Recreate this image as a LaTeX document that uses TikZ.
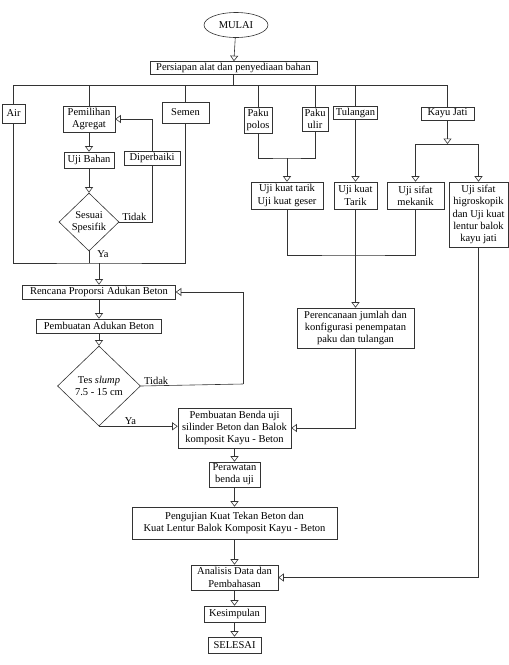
\documentclass[tikz,border=0pt]{standalone}
\usepackage{fontspec}
\setmainfont{Liberation Serif}
\usetikzlibrary{arrows.meta,shapes.geometric}

\begin{document}
\begin{tikzpicture}[x=1pt,y=-1pt,>={Triangle[open,length=5.5pt,width=8pt]},
                    line width=0.6pt,color=black!80]
  \tikzstyle{kotak}=[rectangle,draw,fill=white,text=black,inner sep=0.8pt,align=center,
                     font=\fontsize{10.5}{12.2}\selectfont]
  \tikzstyle{keputusan}=[diamond,draw,fill=white,text=black,inner sep=0pt,align=center,
                     font=\fontsize{10.5}{12.2}\selectfont]
  \tikzstyle{terminal}=[ellipse,draw,fill=white,text=black,inner sep=0pt,
                     font=\fontsize{10.5}{12.2}\selectfont]
  \tikzstyle{ket}=[text=black,inner sep=1pt,font=\fontsize{10.5}{12.2}\selectfont]

  \useasboundingbox (0,0) rectangle (509,665);

  \node[terminal,minimum width=64pt,minimum height=25pt] (mulai) at (236,25) {MULAI};
  \node[kotak,minimum width=167pt,minimum height=13pt] (persiapan) at (233.5,68) {Persiapan alat dan penyediaan bahan};

  % kiri: bahan beton
  \node[kotak,minimum width=23pt,minimum height=19pt] (air) at (13.5,113.5) {Air};
  \node[kotak,minimum width=52pt,minimum height=26pt] (pemilihan) at (89,119) {Pemilihan\\Agregat};
  \node[kotak,minimum width=47pt,minimum height=21pt] (semen) at (185.5,112.5) {Semen};
  \node[kotak,minimum width=50pt,minimum height=16pt] (ujibahan) at (89,160) {Uji Bahan};
  \node[kotak,minimum width=56pt,minimum height=14pt] (diperbaiki) at (152,158) {Diperbaiki};
  \node[keputusan,minimum width=60pt,minimum height=58pt] (sesuai) at (89,222) {Sesuai\\Spesifik};
  \node[kotak,minimum width=153pt,minimum height=14pt] (rencana) at (99,292) {Rencana Proporsi Adukan Beton};
  \node[kotak,minimum width=125pt,minimum height=14pt] (adukan) at (99,326) {Pembuatan Adukan Beton};
  \node[keputusan,minimum width=83pt,minimum height=80pt] (tes) at (99,386) {Tes \textit{slump}\\7.5 - 15 cm};

  % kanan: paku, tulangan, kayu
  \node[kotak,minimum width=28pt,minimum height=26pt] (pakupolos) at (258,120) {Paku\\polos};
  \node[kotak,minimum width=26pt,minimum height=24pt] (pakuulir) at (315,119) {Paku\\ulir};
  \node[kotak,minimum width=44pt,minimum height=13pt] (tulangan) at (355.5,113) {Tulangan};
  \node[kotak,minimum width=53pt,minimum height=13pt] (kayujati) at (447.5,113.5) {Kayu Jati};
  \node[kotak,minimum width=72pt,minimum height=27pt] (ujitarik) at (287,195.5) {Uji kuat tarik\\Uji kuat geser};
  \node[kotak,minimum width=43pt,minimum height=27pt] (ujikuattarik) at (355.5,195.5) {Uji kuat\\Tarik};
  \node[kotak,minimum width=57pt,minimum height=27pt] (mekanik) at (415.5,195.5) {Uji sifat\\mekanik};
  \node[kotak,minimum width=59pt,minimum height=65pt] (higro) at (478.5,214.5) {Uji sifat\\higroskopik\\dan Uji kuat\\lentur balok\\kayu jati};
  \node[kotak,minimum width=117pt,minimum height=40pt] (perencanaan) at (355.5,328) {Perencanaan jumlah dan\\konfigurasi penempatan\\paku dan tulangan};

  % bawah
  \node[kotak,minimum width=113pt,minimum height=40pt] (bendauji) at (234.5,428) {Pembuatan Benda uji\\silinder Beton dan Balok\\komposit Kayu - Beton};
  \node[kotak,minimum width=51pt,minimum height=25pt] (perawatan) at (234.5,474.5) {Perawatan\\benda uji};
  \node[kotak,minimum width=205pt,minimum height=32pt] (pengujian) at (234.5,523) {Pengujian Kuat Tekan Beton dan\\Kuat Lentur Balok Komposit Kayu - Beton};
  \node[kotak,minimum width=87pt,minimum height=25pt] (analisis) at (234.5,577.5) {Analisis Data dan\\Pembahasan};
  \node[kotak,minimum width=61pt,minimum height=16pt] (kesimpulan) at (234.5,614) {Kesimpulan};
  \node[kotak,minimum width=53pt,minimum height=16pt] (selesai) at (234.5,645) {SELESAI};

  \coordinate (busL) at (13.5,85);
  \coordinate (busR) at (447.5,85);
  \coordinate (gabung) at (99,263);
  \coordinate (tesR) at (243,384);
  \coordinate (pakuGabung) at (287,158);
  \coordinate (ujiGabung) at (355.5,255);
  \coordinate (kayuCabang) at (447.5,144);

  \draw[->] (mulai) -- (persiapan);
  \draw (persiapan.south) -- (persiapan.south |- busL);
  \draw (busL) -- (busR);
  \foreach \n in {air,pemilihan,semen,pakupolos,pakuulir,tulangan,kayujati}
    \draw (\n.north) -- (\n.north |- busL);

  \draw[->] (pemilihan) -- (ujibahan);
  \draw[->] (ujibahan) -- (sesuai);
  \draw (sesuai.east) -| node[ket,above,pos=0.23] {Tidak} (diperbaiki.south);
  \draw[->] (diperbaiki.north) |- (pemilihan.east);
  \draw (air.south) |- (gabung) -| (semen.south);
  \draw (sesuai.south) -- node[ket,right=7pt,pos=0.2] {Ya} (sesuai.south |- gabung);
  \draw[->] (gabung) -- (rencana.north);
  \draw[->] (rencana) -- (adukan);
  \draw[->] (adukan) -- (tes);
  \draw (tes.east) -- node[ket,above,pos=0.15] {Tidak} (tesR);
  \draw[->] (tesR) |- (rencana.east);
  \draw[->] (tes.south) -- node[ket,above,pos=0.4] {Ya} (tes.south -| bendauji.west);

  \draw (pakupolos.south) |- (pakuGabung) -| (pakuulir.south);
  \draw[->] (pakuGabung) -- (ujitarik.north);
  \draw[->] (tulangan) -- (ujikuattarik);
  \draw[->] (ujikuattarik) -- (perencanaan);
  \draw (ujitarik.south) |- (ujiGabung) -| (mekanik.south);
  \draw[->] (kayujati) -- (kayuCabang);
  \draw[->] (kayuCabang) -| (mekanik.north);
  \draw[->] (kayuCabang) -| (higro.north);
  \draw[->] (perencanaan.south) |- (bendauji.east);
  \draw[->] (higro.south) |- (analisis.east);

  \draw[->] (bendauji) -- (perawatan);
  \draw[->] (perawatan) -- (pengujian);
  \draw[->] (pengujian) -- (analisis);
  \draw[->] (analisis) -- (kesimpulan);
  \draw[->] (kesimpulan) -- (selesai);
\end{tikzpicture}
\end{document}
